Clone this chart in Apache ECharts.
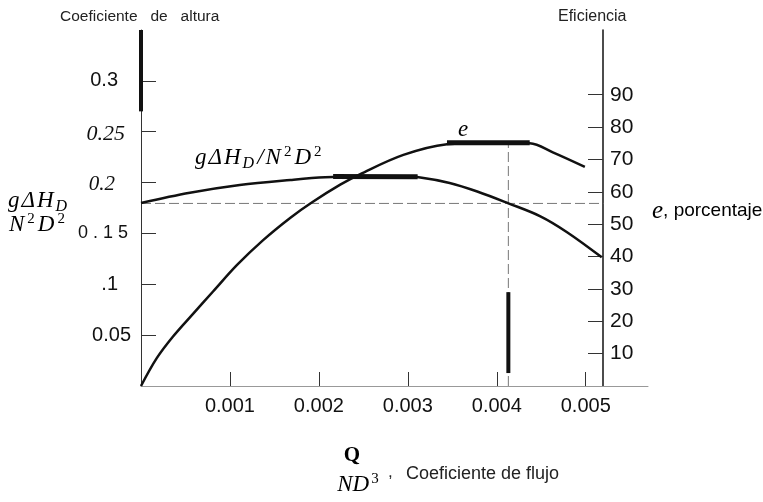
<!DOCTYPE html>
<html>
<head>
    <meta charset="utf-8">
    <title>Coeficiente de altura / Eficiencia</title>
    <script src="https://cdnjs.cloudflare.com/ajax/libs/echarts/6.0.0/echarts.min.js"></script>
    <style>
        html, body { margin: 0; padding: 0; background: #fff; }
        #chart { width: 763px; height: 502px; }
    </style>
</head>
<body>
    <div id="chart"></div>

    <script>
        // datos leidos de la figura
        // curva gΔH_D/N²D²  [Q/ND³, coeficiente de altura]
        var headCurve = [
            [0, 0.180], [0.00055, 0.190], [0.00111, 0.1976], [0.00168, 0.2026],
            [0.00207, 0.2052], [0.0026, 0.2062], [0.00291, 0.2060], [0.00314, 0.2050],
            [0.00347, 0.1996], [0.00378, 0.1912], [0.00413, 0.1796], [0.00449, 0.1668],
            [0.00479, 0.1512], [0.00518, 0.1265]
        ];
        var headBold = [[0.00216, 0.2060], [0.00311, 0.2058]];

        // curva e  [Q/ND³, eficiencia %]
        var effCurve = [
            [0, 0], [0.000177, 8.6], [0.00036, 15.3], [0.000585, 22.3], [0.00081, 29.2],
            [0.00108, 37.4], [0.00137, 45.0], [0.00168, 52.0], [0.00192, 56.7],
            [0.00224, 62.2], [0.00246, 65.4], [0.00295, 71.4], [0.00344, 74.7],
            [0.0039, 75.2], [0.00437, 75.0], [0.00463, 72.2], [0.00499, 67.7]
        ];
        var effBold = [[0.00344, 75.2], [0.00437, 75.2]];

        // lineas de referencia
        var refHorizontal = [[0, 0.1795], [0.0052, 0.1795]];
        var refVertical = [[0.00413, 0], [0.00413, 75]];
        var refVerticalBold = [[0.00413, 4], [0.00413, 29]];
        var leftAxisBold = [[0, 0.27], [0, 0.35]];

        // ejes
        var xTickValues = [0.001, 0.002, 0.003, 0.004, 0.005];
        var xTickLabels = ['0.001', '0.002', '0.003', '0.004', '0.005'];
        var leftTickValues = [0.05, 0.1, 0.15, 0.2, 0.25, 0.3];
        var leftTickLabels = ['0.05', '.1', '0 . 1 5', '0.2', '0.25', '0.3'];
        var leftTickStyles = ['a', 'b', 'c', 'd', 'e', 'f'];
        var rightTickValues = [10, 20, 30, 40, 50, 60, 70, 80, 90];
        var rightTickLabels = ['10', '20', '30', '40', '50', '60', '70', '80', '90'];

        function pick(values, v) {
            for (var i = 0; i < values.length; i++) {
                if (Math.abs(values[i] - v) < 1e-9) return i;
            }
            return -1;
        }

        var SANS = "'Liberation Sans', Arial, sans-serif";
        var SERIF = "'Liberation Serif', 'Times New Roman', serif";

        var chart = echarts.init(document.getElementById('chart'));

        function lineSeries(data, axis, width, opts) {
            return Object.assign({
                type: 'line',
                yAxisIndex: axis,
                data: data,
                symbol: 'none',
                clip: false,
                lineStyle: { color: '#111', width: width },
                z: 3
            }, opts || {});
        }

        var mathRich = {
            m: { fontFamily: SERIF, fontStyle: 'italic', fontSize: 23, color: '#111', padding: [0, 2, 0, 0] },
            sub: { fontFamily: SERIF, fontStyle: 'italic', fontSize: 16, color: '#111', padding: [11, 3, 0, 0] },
            sup: { fontFamily: SERIF, fontSize: 15, color: '#111', padding: [0, 3, 12, 1] },
            sup3: { fontFamily: SERIF, fontSize: 15, color: '#111', padding: [0, 0, 12, 0] },
            up: { fontFamily: SERIF, fontSize: 21, fontWeight: 'bold', color: '#111' },
            ee: { fontFamily: SERIF, fontStyle: 'italic', fontSize: 25, color: '#111' },
            s: { fontFamily: SANS, fontSize: 19, color: '#111' }
        };

        chart.setOption({
            animation: false,
            backgroundColor: '#fff',
            grid: { left: 141, right: 115, top: 30, bottom: 116 },
            xAxis: {
                type: 'value',
                min: 0,
                max: 0.0057,
                interval: 0.001,
                splitLine: { show: false },
                axisLine: { lineStyle: { color: '#999', width: 1 } },
                axisTick: {
                    inside: true, length: 14, customValues: xTickValues,
                    lineStyle: { color: '#333', width: 1 }
                },
                axisLabel: {
                    customValues: xTickValues,
                    margin: 10,
                    fontFamily: SANS, fontSize: 20, color: '#111',
                    formatter: function (v) {
                        var i = pick(xTickValues, v);
                        return i < 0 ? '' : xTickLabels[i];
                    }
                }
            },
            yAxis: [{
                type: 'value',
                min: 0,
                max: 0.35,
                interval: 0.05,
                position: 'left',
                splitLine: { show: false },
                axisLine: { lineStyle: { color: '#333', width: 1 } },
                axisTick: {
                    inside: true, length: 15, customValues: leftTickValues,
                    lineStyle: { color: '#333', width: 1 }
                },
                axisLabel: {
                    customValues: leftTickValues,
                    margin: 10,
                    formatter: function (v) {
                        var i = pick(leftTickValues, v);
                        return i < 0 ? '' : '{' + leftTickStyles[i] + '|' + leftTickLabels[i] + '}';
                    },
                    rich: {
                        a: { fontFamily: SANS, fontSize: 20, color: '#111' },
                        b: { fontFamily: SANS, fontSize: 20, color: '#111', padding: [0, 13, 0, 0] },
                        c: { fontFamily: SANS, fontSize: 18, color: '#111', padding: [0, 3, 0, 0] },
                        d: { fontFamily: SERIF, fontStyle: 'italic', fontSize: 21, color: '#111', padding: [4, 16, 0, 0] },
                        e: { fontFamily: SERIF, fontStyle: 'italic', fontSize: 22, color: '#111', padding: [6, 6, 0, 0] },
                        f: { fontFamily: SANS, fontSize: 20, color: '#111', padding: [0, 13, 0, 0] }
                    }
                }
            }, {
                type: 'value',
                min: 0,
                max: 110,
                interval: 10,
                position: 'right',
                offset: -45,
                splitLine: { show: false },
                axisLine: { lineStyle: { color: '#111', width: 1.5 } },
                axisTick: {
                    inside: true, length: 15, customValues: rightTickValues,
                    lineStyle: { color: '#333', width: 1 }
                },
                axisLabel: {
                    customValues: rightTickValues,
                    margin: 7,
                    fontFamily: SANS, fontSize: 21, color: '#111',
                    formatter: function (v) {
                        var i = pick(rightTickValues, v);
                        return i < 0 ? '' : rightTickLabels[i];
                    }
                }
            }],
            series: [
                lineSeries(refHorizontal, 0, 1, { lineStyle: { color: '#777', width: 1, type: [10, 4] }, z: 2 }),
                lineSeries(refVertical, 1, 1, { lineStyle: { color: '#777', width: 1, type: [10, 4] }, z: 2 }),
                lineSeries(headCurve, 0, 2.5, { smooth: 0.35 }),
                lineSeries(headBold, 0, 5),
                lineSeries(effCurve, 1, 2.5, { smooth: 0.35 }),
                lineSeries(effBold, 1, 5),
                lineSeries(refVerticalBold, 1, 4),
                lineSeries(leftAxisBold, 0, 4)
            ],
            graphic: [
                { type: 'text', x: 60, y: 17, style: { text: 'Coeficiente   de   altura', font: '15.5px ' + SANS, fill: '#222', verticalAlign: 'middle' } },
                { type: 'text', x: 558, y: 17, style: { text: 'Eficiencia', font: '16px ' + SANS, fill: '#222', verticalAlign: 'middle' } },
                { type: 'text', x: 195, y: 158, style: { text: '{m|g}{m|\u0394}{m|H}{sub|D}{m|/}{m|N}{sup|2}{m|D}{sup|2}', rich: mathRich, verticalAlign: 'middle' } },
                { type: 'text', x: 458, y: 130, style: { text: '{m|e}', rich: mathRich, verticalAlign: 'middle' } },
                { type: 'text', x: 8, y: 201, style: { text: '{m|g}{m|\u0394}{m|H}{sub|D}', rich: mathRich, verticalAlign: 'middle' } },
                { type: 'text', x: 9, y: 225, style: { text: '{m|N}{sup|2}{m|D}{sup|2}', rich: mathRich, verticalAlign: 'middle' } },
                { type: 'text', x: 652, y: 211, style: { text: '{ee|e}{s|, porcentaje}', rich: mathRich, verticalAlign: 'middle' } },
                { type: 'text', x: 352, y: 456, style: { text: '{up|Q}', rich: mathRich, align: 'center', verticalAlign: 'middle' } },
                { type: 'text', x: 358, y: 485, style: { text: '{m|ND}{sup3|3}', rich: mathRich, align: 'center', verticalAlign: 'middle' } },
                { type: 'text', x: 388, y: 472, style: { text: ',', font: '17px ' + SANS, fill: '#222', verticalAlign: 'middle' } },
                { type: 'text', x: 406, y: 474, style: { text: 'Coeficiente de flujo', font: '18px ' + SANS, fill: '#222', verticalAlign: 'middle' } }
            ]
        });
    </script>
</body>
</html>
